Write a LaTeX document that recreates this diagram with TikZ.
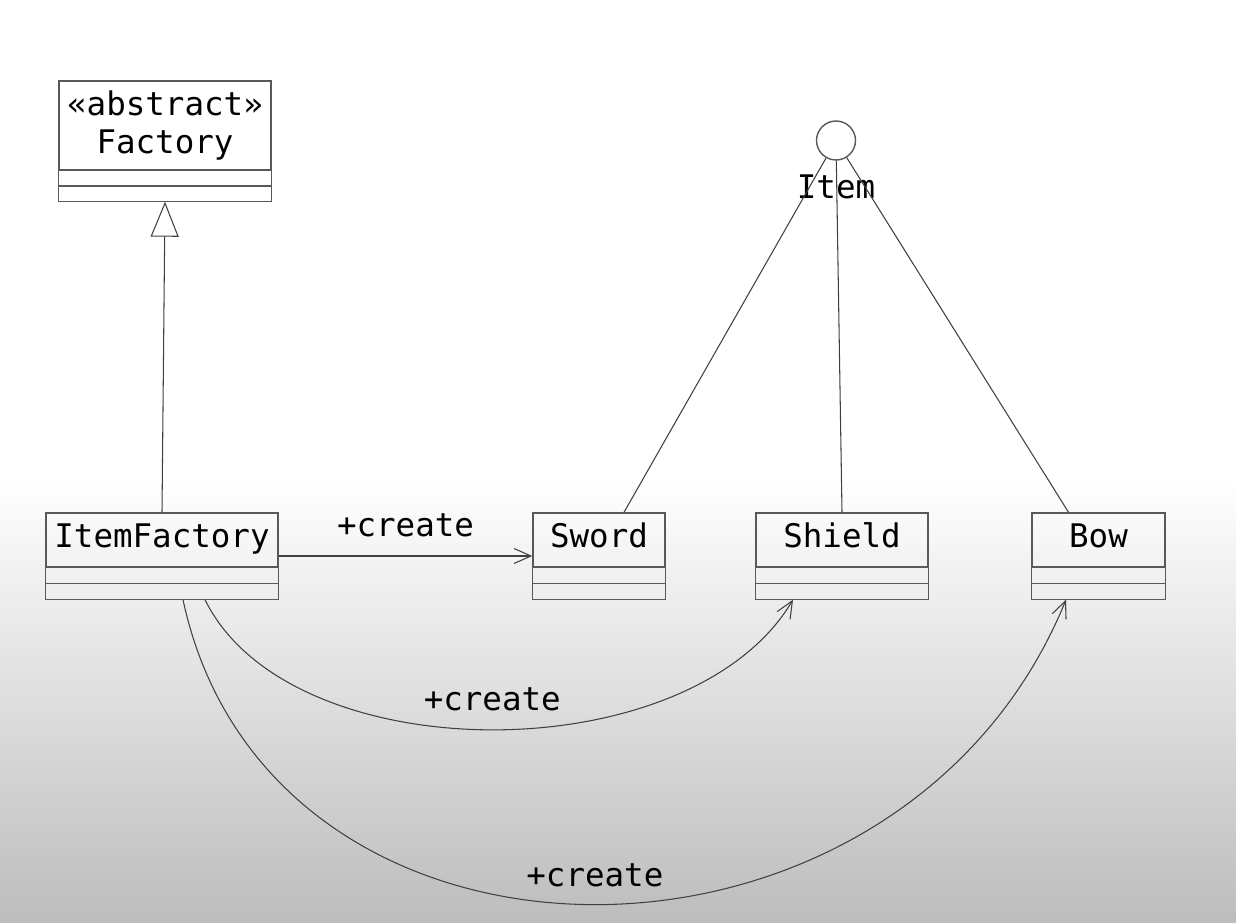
\documentclass[tikz,border=0pt]{standalone}
\usepackage{fontspec}
\setmonofont{DejaVu Sans Mono}
\usepackage{tikz}
\usetikzlibrary{positioning}
\usetikzlibrary{arrows.meta}

\tikzset{
  clase/.style={draw=black!65, line width=0.8pt, inner sep=0pt, minimum height=1.08cm,
    font=\ttfamily\fontsize{18.5}{21.6}\selectfont},
  nombre/.style={text height=0.9em, text depth=0pt},
  etiqueta/.style={inner sep=0pt, text height=0.73em, text depth=0pt,
    font=\ttfamily\fontsize{18.5}{21.6}\selectfont},
  linea/.style={draw=black!75, line width=0.6pt},
  crea/.style={linea, -{Straight Barb[length=0.34cm,width=0.3cm]}},
  hereda/.style={linea, -{Triangle[open,length=0.7cm,width=0.56cm]}}
}

% compartimentos vacios bajo el nombre (#1 nodo, #2 alto de cada uno)
\newcommand{\compartimentos}[2]{%
  \draw[black!65, line width=0.8pt] (#1.south west) -- ++(0cm,-2*#2) -| (#1.south east);
  \draw[black!65, line width=0.8pt] ([yshift=-#2]#1.south west) -- ([yshift=-#2]#1.south east);
  \coordinate (#1-bot) at ([yshift=-2*#2]#1.south);
}

\begin{document}
\begin{tikzpicture}[x=0.02cm, y=-0.02cm]
    % Fondo
    \useasboundingbox (0,0) rectangle (1236,922);
    \shade[top color=white, bottom color=black!26] (0,480) rectangle (1236,922);

    % Clase abstracta
    \node[clase, minimum width=4.24cm, minimum height=1.78cm, align=center] (factory) at (165,125.5) {«abstract»\\Factory};
    \compartimentos{factory}{0.31cm}

    % Clases concretas
    \node[clase, nombre, minimum width=4.64cm] (ifac) at (162,540) {ItemFactory};
    \node[clase, nombre, minimum width=2.64cm] (sword) at (599,540) {Sword};
    \node[clase, nombre, minimum width=3.44cm] (shield) at (842,540) {Shield};
    \node[clase, nombre, minimum width=2.66cm] (bow) at (1098.5,540) {Bow};
    \foreach \nom in {ifac,sword,shield,bow} {\compartimentos{\nom}{0.32cm}}

    % Interfaz Item
    \node[circle, draw=black!65, line width=0.8pt, minimum size=0.78cm, inner sep=0pt] (item) at (836,140.5) {};
    \node[etiqueta, below=0.5cm of item] (itemname) {Item};
    \draw[linea] (item) -- ([xshift=0.5cm]sword.north);
    \draw[linea] (item) -- (shield.north);
    \draw[linea] (item) -- ([xshift=-0.6cm]bow.north);

    % Herencia
    \draw[hereda] (ifac.north) -- (factory-bot);

    % Asociaciones +create
    \draw[crea] ([yshift=-0.32cm]ifac.east) -- node[etiqueta, above=0.38cm] (crea1) {+create} ([yshift=-0.32cm]sword.west);
    \draw[crea] ([xshift=0.86cm]ifac-bot) .. controls (290,773) and (690,773) .. node[pos=0.5, etiqueta, above=0.38cm] (crea2) {+create} ([xshift=-0.98cm]shield-bot);
    \draw[crea] ([xshift=0.42cm]ifac-bot) .. controls (270,1006) and (900,1006) .. node[pos=0.5, etiqueta, above=0.34cm] (crea3) {+create} ([xshift=-0.65cm]bow-bot);

\end{tikzpicture}
\end{document}
